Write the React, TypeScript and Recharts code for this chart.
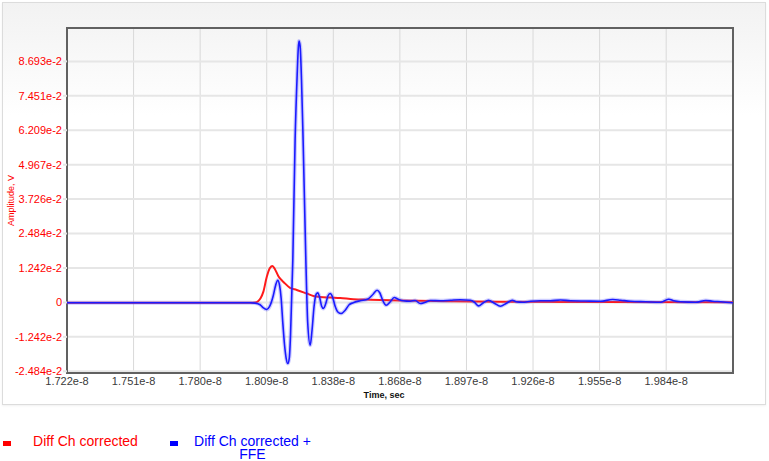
import { LineChart, Line, XAxis, YAxis, CartesianGrid, ReferenceArea, Label } from "recharts";

// time in units of 1e-8 s, amplitude in volts
const redTime = [
  1.722, 1.7801, 1.802, 1.8042, 1.8055, 1.8066, 1.8078, 1.8093, 1.8107, 1.8118,
  1.8129, 1.8144, 1.8154, 1.8166, 1.8195, 1.8224, 1.8268, 1.8297, 1.8326, 1.837,
  1.8414, 1.8471, 1.8545, 1.8677, 1.8896, 1.9114, 1.9552, 2.0131,
];
const redAmp = [
  -0.00011, -0.00011, -0.00007, 0, 0.00043, 0.00152, 0.00379, 0.0092, 0.01245, 0.01317,
  0.01198, 0.00946, 0.00837, 0.0074, 0.00523, 0.00451, 0.00321, 0.00235, 0.00198, 0.00177,
  0.00162, 0.00115, 0.00097, 0.00069, 0.00043, 0.00025, 0.00014, 0.00007,
];

const blueTime = [
  1.722, 1.7801, 1.802, 1.8042, 1.8064, 1.8077, 1.8093, 1.8105, 1.8122, 1.8132,
  1.8141, 1.8149, 1.8156, 1.8163, 1.8171, 1.8178, 1.8185, 1.8192, 1.8197, 1.8207,
  1.8217, 1.8226, 1.8231, 1.8234, 1.8239, 1.8245, 1.8252, 1.8264, 1.8272, 1.8283,
  1.8291, 1.83, 1.8309, 1.8316, 1.8324, 1.8333, 1.8341, 1.835, 1.8361, 1.837,
  1.8381, 1.8392, 1.8405, 1.8418, 1.8436, 1.8453, 1.8471, 1.8501, 1.8536, 1.8558,
  1.8575, 1.8587, 1.86, 1.8615, 1.8633, 1.865, 1.8668, 1.869, 1.872, 1.8742,
  1.8764, 1.8786, 1.8808, 1.8852, 1.8896, 1.8939, 1.8983, 1.9001, 1.9019, 1.904,
  1.9062, 1.9088, 1.9114, 1.9141, 1.9166, 1.9184, 1.9211, 1.9246, 1.9289, 1.9333,
  1.9377, 1.9421, 1.9487, 1.9552, 1.9605, 1.964, 1.9683, 1.9749, 1.9815, 1.9832,
  1.985, 1.9872, 1.9902, 1.9968, 2.0012, 2.0042, 2.0078, 2.0131,
];
const blueAmp = [
  -0.00011, -0.00011, -0.00014, -0.00025, -0.00083, -0.00191, -0.00256, -0.00155, 0.0026, 0.00621,
  0.00801, 0.00621, 0.00152, -0.00704, -0.01545, -0.02014, -0.02205, -0.01978, -0.01184, 0.01523,
  0.05857, 0.08203, 0.09174, 0.09427, 0.09246, 0.08019, 0.05857, 0.01523, -0.00715, -0.01545,
  -0.01003, -0.00137, 0.00296, 0.00343, 0.00188, -0.00137, -0.0022, -0.00065, 0.00242, 0.00321,
  0.00188, -0.00137, -0.00354, -0.00401, -0.00282, -0.00083, -0.00011, 0.00061, 0.00126, 0.00296,
  0.0044, 0.0035, 0.00079, -0.00101, 0.00025, 0.00177, 0.00115, 0.00061, 0.00043, 0.00072,
  -0.0004, 0.00007, 0.00072, 0.00061, 0.00079, 0.00097, 0.00079, 0.00007, -0.00126, -0.00011,
  0.00079, -0.00029, -0.00137, -0.00029, 0.00079, 0.00025, 0.00007, 0.00043, 0.00061, 0.00061,
  0.0009, 0.00061, 0.00051, 0.00043, 0.00105, 0.00079, 0.00043, 0.00025, 0.00007, 0.00061,
  0.00115, 0.00061, 0.00025, 0.00007, 0.00069, 0.00043, 0.00025, -0.00011,
];

const xTicks = [1.722, 1.7511, 1.7802, 1.8093, 1.8384, 1.8675, 1.8966, 1.9257, 1.9548, 1.9839];
const xTickLabels = [
  "1.722e-8", "1.751e-8", "1.780e-8", "1.809e-8", "1.838e-8",
  "1.868e-8", "1.897e-8", "1.926e-8", "1.955e-8", "1.984e-8",
];
const yTicks = [-0.02484, -0.01242, 0, 0.01242, 0.02484, 0.03726, 0.04967, 0.06209, 0.07451, 0.08693];
const yTickLabels = [
  "-2.484e-2", "-1.242e-2", "0", "1.242e-2", "2.484e-2",
  "3.726e-2", "4.967e-2", "6.209e-2", "7.451e-2", "8.693e-2",
];

const seriesNames = ["Diff Ch corrected", "Diff Ch corrected + FFE"];
const seriesColors = ["#ff1a1a", "#1a1aff"];
const legendColors = ["#ff0000", "#0000ff"];

const xDomain = [1.722, 2.0131];
const yDomain = [-0.02545, 0.09897];

const font = "'Liberation Sans', Arial, sans-serif";

const redData = redTime.map((t, i) => ({ t, v: redAmp[i] }));
const blueData = blueTime.map((t, i) => ({ t, v: blueAmp[i] }));

const XTitle = (props: any) => {
  const { viewBox } = props;
  return (
    <text
      x={viewBox.x + viewBox.width / 2 - 16}
      y={viewBox.y + 25}
      textAnchor="middle"
      fontSize={9}
      fontWeight="bold"
      fontFamily={font}
      fill="#111"
    >
      Time, sec
    </text>
  );
};

const YTitle = (props: any) => {
  const { viewBox } = props;
  const cx = viewBox.x + 11;
  const cy = viewBox.y + viewBox.height / 2;
  return (
    <text
      x={cx}
      y={cy}
      transform={`rotate(-90 ${cx} ${cy})`}
      textAnchor="middle"
      dominantBaseline="central"
      fontSize={9}
      fontFamily={font}
      fill="#ff0000"
    >
      Amplitude, V
    </text>
  );
};

export default function App() {
  return (
    <div style={{ position: "absolute", left: 0, top: 0, width: 769, height: 461, fontFamily: font }}>
      <div
        style={{
          position: "absolute",
          left: 2,
          top: 2,
          width: 762,
          height: 401,
          border: "1px solid #dcdcdc",
          background: "linear-gradient(to bottom, #f2f2f2 0%, #ffffff 28%)",
          boxShadow: "0 1px 2px rgba(0,0,0,0.06)",
        }}
      />
      <div style={{ position: "absolute", left: 0, top: 0 }}>
        <LineChart width={769} height={461} margin={{ top: 28, right: 36, bottom: 58, left: 0 }}>
          <CartesianGrid horizontal={false} stroke="#d9d9d9" strokeWidth={1} />
          <CartesianGrid vertical={false} stroke="#e6e6e6" strokeWidth={2} />
          <XAxis
            type="number"
            dataKey="t"
            domain={xDomain}
            allowDataOverflow
            ticks={xTicks}
            interval={0}
            tickFormatter={(_v: number, i: number) => xTickLabels[i]}
            tick={{ fill: "#3a3a3a", fontSize: 11, fontFamily: font }}
            tickLine={false}
            axisLine={false}
            tickSize={0}
            tickMargin={4}
            height={30}
          >
            <Label content={<XTitle />} />
          </XAxis>
          <YAxis
            type="number"
            domain={yDomain}
            allowDataOverflow
            ticks={yTicks}
            interval={0}
            tickFormatter={(_v: number, i: number) => yTickLabels[i]}
            tick={{ fill: "#ff0000", fontSize: 11, fontFamily: font }}
            tickLine={{ stroke: "#e6e6e6", strokeWidth: 2 }}
            tickSize={4}
            tickMargin={1}
            axisLine={false}
            width={67}
          >
            <Label content={<YTitle />} />
          </YAxis>
          <Line
            data={redData}
            dataKey="v"
            name={seriesNames[0]}
            type="monotone"
            stroke={seriesColors[0]}
            strokeWidth={2}
            dot={false}
            activeDot={false}
            isAnimationActive={false}
          />
          <Line
            data={blueData}
            dataKey="v"
            name={seriesNames[1] + " halo"}
            type="monotone"
            stroke="#5a5aff"
            strokeOpacity={0.3}
            strokeWidth={4}
            dot={false}
            activeDot={false}
            isAnimationActive={false}
          />
          <Line
            data={blueData}
            dataKey="v"
            name={seriesNames[1]}
            type="monotone"
            stroke={seriesColors[1]}
            strokeWidth={1.6}
            dot={false}
            activeDot={false}
            isAnimationActive={false}
          />
          <ReferenceArea
            x1={xDomain[0]}
            x2={xDomain[1]}
            y1={yDomain[0]}
            y2={yDomain[1]}
            fill="none"
            stroke="#616161"
            strokeWidth={2}
            ifOverflow="visible"
          />
        </LineChart>
      </div>
      <div style={{ position: "absolute", left: 3, top: 435, display: "flex" }}>
        {seriesNames.map((name, i) => (
          <div key={name} style={{ display: "flex", alignItems: "flex-start", marginRight: 22 }}>
            <div style={{ width: 8, height: 5, marginTop: 6, background: legendColors[i] }} />
            <div
              style={{
                width: 125,
                marginLeft: 12,
                textAlign: "center",
                fontSize: 14,
                lineHeight: "12.5px",
                color: legendColors[i],
              }}
            >
              {name}
            </div>
          </div>
        ))}
      </div>
    </div>
  );
}
